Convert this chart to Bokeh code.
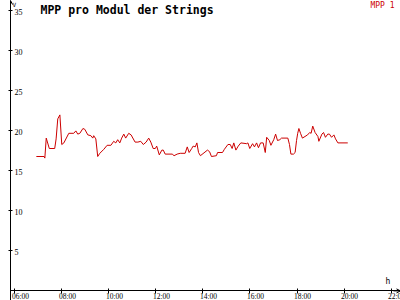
from bokeh.plotting import figure
from bokeh.models import (Range1d, FixedTicker, Label, LabelSet, ColumnDataSource, Arrow,
                          OpenHead, CustomJSTickFormatter)
from bokeh.embed import file_html
from bokeh.resources import INLINE

# ---- data (hours of day, volts) ----
hours = [6.91, 7.24, 7.27, 7.33, 7.46, 7.69, 7.75, 7.82, 7.91, 7.99, 8.08, 8.29, 8.50, 8.59,
         8.67, 8.76, 8.89, 8.97, 9.10, 9.23, 9.31, 9.35, 9.44, 9.52, 9.61, 9.78, 9.92, 10.08,
         10.20, 10.29, 10.37, 10.46, 10.54, 10.63, 10.71, 10.84, 10.94, 11.11, 11.23, 11.35,
         11.46, 11.58, 11.69, 11.78, 11.88, 11.97, 12.03, 12.14, 12.25, 12.31, 12.39, 12.69,
         12.77, 12.90, 13.03, 13.24, 13.33, 13.41, 13.52, 13.58, 13.67, 13.74, 13.81, 13.89,
         14.19, 14.28, 14.36, 14.57, 14.62, 14.83, 14.91, 15.06, 15.16, 15.24, 15.31, 15.40,
         15.50, 15.61, 15.86, 15.91, 15.99, 16.11, 16.19, 16.28, 16.36, 16.45, 16.56, 16.65,
         16.71, 16.82, 16.89, 17.01, 17.09, 17.17, 17.27, 17.34, 17.61, 17.68, 17.74, 17.85,
         17.92, 17.98, 18.03, 18.08, 18.15, 18.23, 18.45, 18.54, 18.60, 18.67, 18.77, 18.89,
         18.93, 19.06, 19.13, 19.21, 19.31, 19.38, 19.47, 19.57, 19.64, 19.74, 20.16]
mpp1 = [16.8, 16.8, 16.6, 19.1, 17.8, 17.8, 19.0, 21.5, 22.0, 18.3, 18.5, 19.7, 19.7, 20.0,
        19.6, 19.7, 20.3, 20.2, 19.5, 19.4, 19.1, 19.4, 19.0, 16.8, 17.2, 17.7, 18.2, 18.2,
        18.7, 18.5, 18.9, 18.5, 19.1, 19.6, 19.1, 19.7, 19.5, 18.6, 18.6, 18.7,
        18.3, 18.6, 19.1, 18.6, 17.8, 17.8, 18.1, 17.0, 17.6, 17.6, 17.1, 17.1,
        16.9, 17.1, 17.2, 17.2, 18.0, 17.3, 17.8, 18.1, 18.0, 18.5, 17.3, 16.9,
        17.6, 17.4, 16.8, 16.9, 17.3, 17.3, 17.7, 18.3, 18.3, 17.8, 18.5, 17.6,
        18.1, 18.5, 18.4, 18.5, 17.8, 18.4, 18.0, 18.5, 17.9, 18.5, 18.5, 17.3,
        19.2, 18.8, 18.2, 18.9, 19.6, 18.8, 18.9, 19.1, 19.1, 18.3, 17.1, 17.1,
        17.3, 18.8, 19.7, 20.3, 19.7, 19.1, 19.5, 19.8, 19.7, 20.6, 19.8, 19.3,
        18.7, 19.6, 19.8, 19.2, 19.6, 19.6, 19.2, 19.5, 19.0, 18.5, 18.5]

x_ticks = [6, 8, 10, 12, 14, 16, 18, 20, 22]
x_tick_labels = ["06:00", "08:00", "10:00", "12:00", "14:00", "16:00", "18:00", "20:00", "22:00"]
y_ticks = [5, 10, 15, 20, 25, 30, 35]
y_tick_labels = ["5", "10", "15", "20", "25", "30", "35"]

title_text = "MPP pro Modul der Strings"
series_name = "MPP 1"
y_unit = "V"
x_unit = "h"

RED = "#cc0000"
MONO = "DejaVu Sans Mono"

x0, x1 = 5.809, 22.404
y0, y1 = -1.2, 36.3

p = figure(width=400, height=300, output_backend="svg", toolbar_location=None,
           x_range=Range1d(x0, x1), y_range=Range1d(y0, y1),
           min_border_left=10, min_border_right=0, min_border_top=0, min_border_bottom=0)
p.outline_line_color = None
p.background_fill_color = "white"
p.border_fill_color = "white"
p.xgrid.visible = False
p.ygrid.visible = False

empty = CustomJSTickFormatter(code="return ''")
for ax, ticks, tin, tout in ((p.xaxis[0], x_ticks, 2, 3), (p.yaxis[0], y_ticks, 2, 2)):
    ax.ticker = FixedTicker(ticks=ticks)
    ax.formatter = empty
    ax.minor_tick_line_color = None
    ax.major_tick_in = tin
    ax.major_tick_out = tout
    ax.major_label_standoff = 0
    ax.axis_line_color = "black"
    ax.major_tick_line_color = "black"
p.xaxis[0].fixed_location = 0

p.line(hours, mpp1, line_color=RED, line_width=1)

# tick labels
xsrc = ColumnDataSource(dict(x=x_ticks, y=[0] * len(x_ticks), t=x_tick_labels))
p.add_layout(LabelSet(x="x", y="y", text="t", source=xsrc, x_offset=-3, y_offset=-1,
                      text_align="left", text_baseline="top", text_font=MONO,
                      text_font_size="7.5px", text_color="black"))
ysrc = ColumnDataSource(dict(x=[x0] * len(y_ticks), y=y_ticks, t=y_tick_labels))
p.add_layout(LabelSet(x="x", y="y", text="t", source=ysrc, x_offset=4, y_offset=-1,
                      text_align="left", text_baseline="middle", text_font=MONO,
                      text_font_size="8px", text_color="black"))

# title, legend, units
p.add_layout(Label(x=x0, y=y1, x_offset=30, y_offset=-2, text=title_text,
                   text_font=MONO, text_font_style="bold", text_font_size="11.5px",
                   text_align="left", text_baseline="top", text_color="black"))
p.add_layout(Label(x=x1, y=y1, x_offset=-6, y_offset=0, text=series_name,
                   text_font=MONO, text_font_size="8px", text_align="right",
                   text_baseline="top", text_color=RED))
p.add_layout(Label(x=x0, y=y1, x_offset=2, y_offset=0, text=y_unit,
                   text_font=MONO, text_font_size="6px", text_align="left",
                   text_baseline="top", text_color="black"))
p.add_layout(Label(x=x1, y=0, x_offset=-15, y_offset=5, text=x_unit,
                   text_font=MONO, text_font_size="8px", text_align="left",
                   text_baseline="bottom", text_color="black"))

# axis arrows
p.add_layout(Arrow(x_start=x0, y_start=y1 - 1, x_end=x0, y_end=y1,
                   end=OpenHead(size=4, line_width=1, line_color="black"), line_color="black"))
p.add_layout(Arrow(x_start=x1 - 0.3, y_start=0, x_end=x1, y_end=0,
                   end=OpenHead(size=4, line_width=1, line_color="black"), line_color="black"))

open("out.html", "w").write(file_html(p, INLINE))
